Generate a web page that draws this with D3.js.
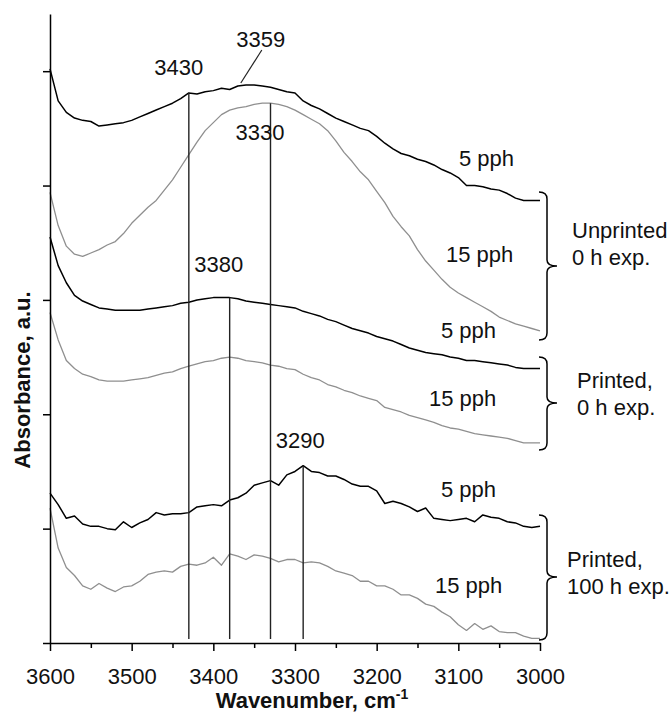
<!DOCTYPE html>
<html>
<head>
<meta charset="utf-8">
<script src="https://cdn.jsdelivr.net/npm/d3@7"></script>
<style>
  html, body { margin: 0; padding: 0; background: #fff; }
  svg { display: block; font-family: "Liberation Sans", Arial, sans-serif; }
</style>
</head>
<body>
<script>
// Wavenumber grid (cm-1), shared by every spectrum
const wavenumbers = [
  3600, 3590, 3580, 3570, 3560, 3550, 3540, 3530, 3520, 3510,
  3500, 3490, 3480, 3470, 3460, 3450, 3440, 3430, 3420, 3410,
  3400, 3390, 3380, 3370, 3360, 3350, 3340, 3330, 3320, 3310,
  3300, 3290, 3280, 3270, 3260, 3250, 3240, 3230, 3220, 3210,
  3200, 3190, 3180, 3170, 3160, 3150, 3140, 3130, 3120, 3110,
  3100, 3090, 3080, 3070, 3060, 3050, 3040, 3030, 3020, 3010, 3000
];

// Stacked absorbance spectra (a.u., offset for display)
const unprinted5 = [
  5.02, 4.74, 4.64, 4.59, 4.57, 4.56, 4.52, 4.53, 4.54, 4.55,
  4.57, 4.60, 4.63, 4.66, 4.69, 4.72, 4.76, 4.81, 4.80, 4.82,
  4.83, 4.85, 4.84, 4.87, 4.88, 4.88, 4.87, 4.86, 4.84, 4.82,
  4.81, 4.74, 4.70, 4.67, 4.63, 4.59, 4.56, 4.53, 4.50, 4.48,
  4.43, 4.37, 4.32, 4.28, 4.26, 4.23, 4.21, 4.18, 4.14, 4.11,
  4.07, 4.00, 4.00, 3.99, 3.97, 3.96, 3.93, 3.89, 3.87, 3.87, 3.87
];
const unprinted15 = [
  3.94, 3.65, 3.47, 3.40, 3.38, 3.41, 3.44, 3.48, 3.51, 3.58,
  3.67, 3.74, 3.81, 3.87, 3.96, 4.05, 4.16, 4.27, 4.38, 4.48,
  4.55, 4.62, 4.66, 4.68, 4.69, 4.71, 4.72, 4.72, 4.71, 4.69,
  4.66, 4.62, 4.58, 4.54, 4.48, 4.39, 4.29, 4.21, 4.12, 4.05,
  3.95, 3.85, 3.73, 3.64, 3.56, 3.44, 3.34, 3.26, 3.18, 3.11,
  3.06, 3.02, 2.98, 2.94, 2.90, 2.85, 2.82, 2.79, 2.77, 2.75, 2.73
];
const printed0h5 = [
  3.55, 3.30, 3.15, 3.04, 2.99, 2.96, 2.93, 2.92, 2.91, 2.91,
  2.91, 2.91, 2.92, 2.93, 2.94, 2.95, 2.97, 2.98, 3.00, 3.01,
  3.02, 3.02, 3.02, 3.01, 2.99, 2.98, 2.97, 2.96, 2.95, 2.94,
  2.93, 2.90, 2.88, 2.86, 2.83, 2.81, 2.78, 2.75, 2.73, 2.71,
  2.68, 2.66, 2.64, 2.61, 2.58, 2.56, 2.54, 2.53, 2.52, 2.50,
  2.49, 2.47, 2.47, 2.46, 2.45, 2.44, 2.43, 2.41, 2.40, 2.40, 2.40
];
const printed0h15 = [
  2.89, 2.65, 2.47, 2.40, 2.35, 2.33, 2.30, 2.29, 2.29, 2.29,
  2.30, 2.31, 2.32, 2.34, 2.36, 2.37, 2.40, 2.42, 2.44, 2.46,
  2.47, 2.49, 2.50, 2.49, 2.47, 2.46, 2.45, 2.43, 2.42, 2.40,
  2.39, 2.35, 2.32, 2.30, 2.26, 2.24, 2.21, 2.19, 2.16, 2.14,
  2.12, 2.06, 2.04, 2.02, 1.99, 1.97, 1.95, 1.93, 1.90, 1.88,
  1.87, 1.85, 1.83, 1.82, 1.81, 1.80, 1.79, 1.77, 1.75, 1.75, 1.75
];
const printed100h5 = [
  1.31, 1.21, 1.09, 1.11, 1.04, 1.02, 1.02, 1.00, 0.99, 1.06,
  1.01, 1.05, 1.08, 1.14, 1.12, 1.13, 1.13, 1.14, 1.19, 1.20,
  1.21, 1.20, 1.25, 1.27, 1.31, 1.38, 1.40, 1.42, 1.38, 1.47,
  1.50, 1.55, 1.50, 1.49, 1.46, 1.46, 1.43, 1.39, 1.37, 1.37,
  1.33, 1.22, 1.24, 1.22, 1.19, 1.15, 1.18, 1.09, 1.08, 1.07,
  1.08, 1.09, 1.06, 1.12, 1.10, 1.09, 1.06, 1.05, 1.02, 1.01, 1.02
];
const printed100h15 = [
  1.18, 0.83, 0.66, 0.59, 0.50, 0.47, 0.52, 0.48, 0.45, 0.49,
  0.50, 0.54, 0.60, 0.62, 0.63, 0.62, 0.67, 0.69, 0.68, 0.70,
  0.75, 0.68, 0.78, 0.76, 0.73, 0.77, 0.76, 0.74, 0.71, 0.73,
  0.73, 0.70, 0.71, 0.70, 0.67, 0.63, 0.61, 0.59, 0.54, 0.54,
  0.50, 0.50, 0.47, 0.42, 0.42, 0.39, 0.34, 0.32, 0.27, 0.23,
  0.16, 0.11, 0.17, 0.12, 0.15, 0.10, 0.09, 0.09, 0.06, 0.04, 0.04
];

// Axis ticks
const xMajorTicks = [3600, 3500, 3400, 3300, 3200, 3100, 3000];
const xMinorTicks = [3550, 3450, 3350, 3250, 3150, 3050];
const yTicks = [0, 1, 2, 3, 4, 5];

// Peak positions marked with vertical lines
const peakPositions = [3430, 3380, 3330, 3290];
const leaderPeak = 3359;

const W = 671, H = 713;
const svg = d3.select("body").append("svg").attr("width", W).attr("height", H);

const x = d3.scaleLinear().domain([3600, 3000]).range([50, 540]);
const y = d3.scaleLinear().domain([0, 5.5]).range([643, 14]);

const ink = "#111";
const fontSize = 22;

// Spectra
const spectra = [
  { values: unprinted5,    color: "#000",    width: 1.5 },
  { values: unprinted15,   color: "#8f8f8f", width: 1.3 },
  { values: printed0h5,    color: "#000",    width: 1.5 },
  { values: printed0h15,   color: "#8f8f8f", width: 1.3 },
  { values: printed100h5,  color: "#000",    width: 1.5 },
  { values: printed100h15, color: "#8f8f8f", width: 1.3 }
];
const line = d3.line().x(d => x(d[0])).y(d => y(d[1]));
svg.append("g").selectAll("path").data(spectra).join("path")
  .attr("d", s => line(d3.zip(wavenumbers, s.values)))
  .attr("fill", "none")
  .attr("stroke", s => s.color)
  .attr("stroke-width", s => s.width)
  .attr("stroke-linejoin", "round");

// Vertical peak markers, each rising to the spectrum it marks
const valueAt = (series, w) => series[wavenumbers.indexOf(w)];
const peakSeries = [unprinted5, printed0h5, unprinted15, printed100h5];
svg.append("g").selectAll("line").data(peakPositions).join("line")
  .attr("x1", d => x(d)).attr("x2", d => x(d))
  .attr("y1", (d, i) => y(valueAt(peakSeries[i], d)))
  .attr("y2", y(0.035))
  .attr("stroke", "#222").attr("stroke-width", 1.4);

// Peak labels
const peakLabelLayout = [
  { w: 3430, dx: -10,   yb: 75 },
  { w: 3380, dx: -11,   yb: 272 },
  { w: 3330, dx: -10.5, yb: 140 },
  { w: 3290, dx: -3,    yb: 448 },
  { w: leaderPeak, dx: 14, yb: 47 }
];
svg.append("g").selectAll("text").data(peakLabelLayout).join("text")
  .attr("x", d => x(d.w) + d.dx).attr("y", d => d.yb)
  .attr("text-anchor", "middle")
  .attr("font-size", fontSize).attr("fill", ink)
  .text(d => d.w);

// Leader from the 3359 label down to the top spectrum
svg.append("line")
  .attr("x1", x(leaderPeak) + 15).attr("y1", 50)
  .attr("x2", x(leaderPeak) - 6).attr("y2", y(valueAt(unprinted5, 3370)) - 3)
  .attr("stroke", "#222").attr("stroke-width", 1.2);

// Axes
const yAxis = svg.append("g").attr("transform", `translate(${x(3600)},0)`)
  .call(d3.axisLeft(y).tickValues(yTicks).tickSize(7).tickSizeOuter(0).tickFormat(""));
const xAxis = svg.append("g").attr("transform", `translate(0,${y(0)})`)
  .call(d3.axisBottom(x).tickValues(xMajorTicks).tickSize(8).tickSizeOuter(0)
    .tickPadding(17).tickFormat(d3.format("d")));
const xMinor = svg.append("g").attr("transform", `translate(0,${y(0)})`)
  .call(d3.axisBottom(x).tickValues(xMinorTicks).tickSize(5).tickFormat(""));
xMinor.select(".domain").remove();
[yAxis, xAxis, xMinor].forEach(g => {
  g.selectAll(".domain, .tick line").attr("stroke", "#000").attr("stroke-width", 1.5);
});
xAxis.selectAll("text")
  .attr("font-size", fontSize).attr("fill", ink)
  .attr("font-family", "Liberation Sans, Arial, sans-serif");

// Axis titles
svg.append("text")
  .attr("transform", "translate(30,380) rotate(-90)")
  .attr("text-anchor", "middle")
  .attr("font-size", fontSize).attr("font-weight", "bold").attr("fill", ink)
  .text("Absorbance, a.u.");
const xt = svg.append("text")
  .attr("x", 312).attr("y", 708)
  .attr("text-anchor", "middle")
  .attr("font-size", fontSize).attr("font-weight", "bold").attr("fill", ink);
xt.append("tspan").text("Wavenumber, cm");
xt.append("tspan").attr("font-size", 14).attr("dy", -9).text("-1");

// Concentration labels beside each spectrum
const seriesLabels = [
  { t: "5 pph",  x: 459, y: 166 },
  { t: "15 pph", x: 446, y: 262 },
  { t: "5 pph",  x: 441, y: 338 },
  { t: "15 pph", x: 429, y: 406 },
  { t: "5 pph",  x: 441, y: 497 },
  { t: "15 pph", x: 435, y: 593 }
];
svg.append("g").selectAll("text").data(seriesLabels).join("text")
  .attr("x", d => d.x).attr("y", d => d.y)
  .attr("font-size", fontSize).attr("fill", ink)
  .text(d => d.t);

// Curly braces grouping the sample pairs
const braces = [
  { top: 192, mid: 266, bot: 340, lines: ["Unprinted", "0 h exp."], tx: 572, ty: 238 },
  { top: 357, mid: 403, bot: 450, lines: ["Printed,", "0 h exp."],  tx: 577, ty: 388 },
  { top: 515, mid: 577, bot: 640, lines: ["Printed,", "100 h exp."], tx: 567, ty: 567 }
];
const x0 = x(3000) - 1, xv = x(3000) + 7, xtip = x(3000) + 17;
const bracePath = b => {
  const p = d3.path();
  p.moveTo(x0, b.top);
  p.quadraticCurveTo(xv, b.top, xv, b.top + 7);
  p.lineTo(xv, b.mid - 6);
  p.quadraticCurveTo(xv, b.mid, xtip, b.mid);
  p.quadraticCurveTo(xv, b.mid, xv, b.mid + 6);
  p.lineTo(xv, b.bot - 7);
  p.quadraticCurveTo(xv, b.bot, x0, b.bot);
  return p.toString();
};
svg.append("g").selectAll("path").data(braces).join("path")
  .attr("d", bracePath)
  .attr("fill", "none").attr("stroke", "#000").attr("stroke-width", 1.5);
const braceText = svg.append("g").selectAll("text").data(braces).join("text")
  .attr("x", d => d.tx).attr("y", d => d.ty)
  .attr("font-size", fontSize).attr("fill", ink);
braceText.each(function(d) {
  d.lines.forEach((s, i) => {
    d3.select(this).append("tspan").attr("x", d.tx).attr("dy", i === 0 ? 0 : 27).text(s);
  });
});
</script>
</body>
</html>
